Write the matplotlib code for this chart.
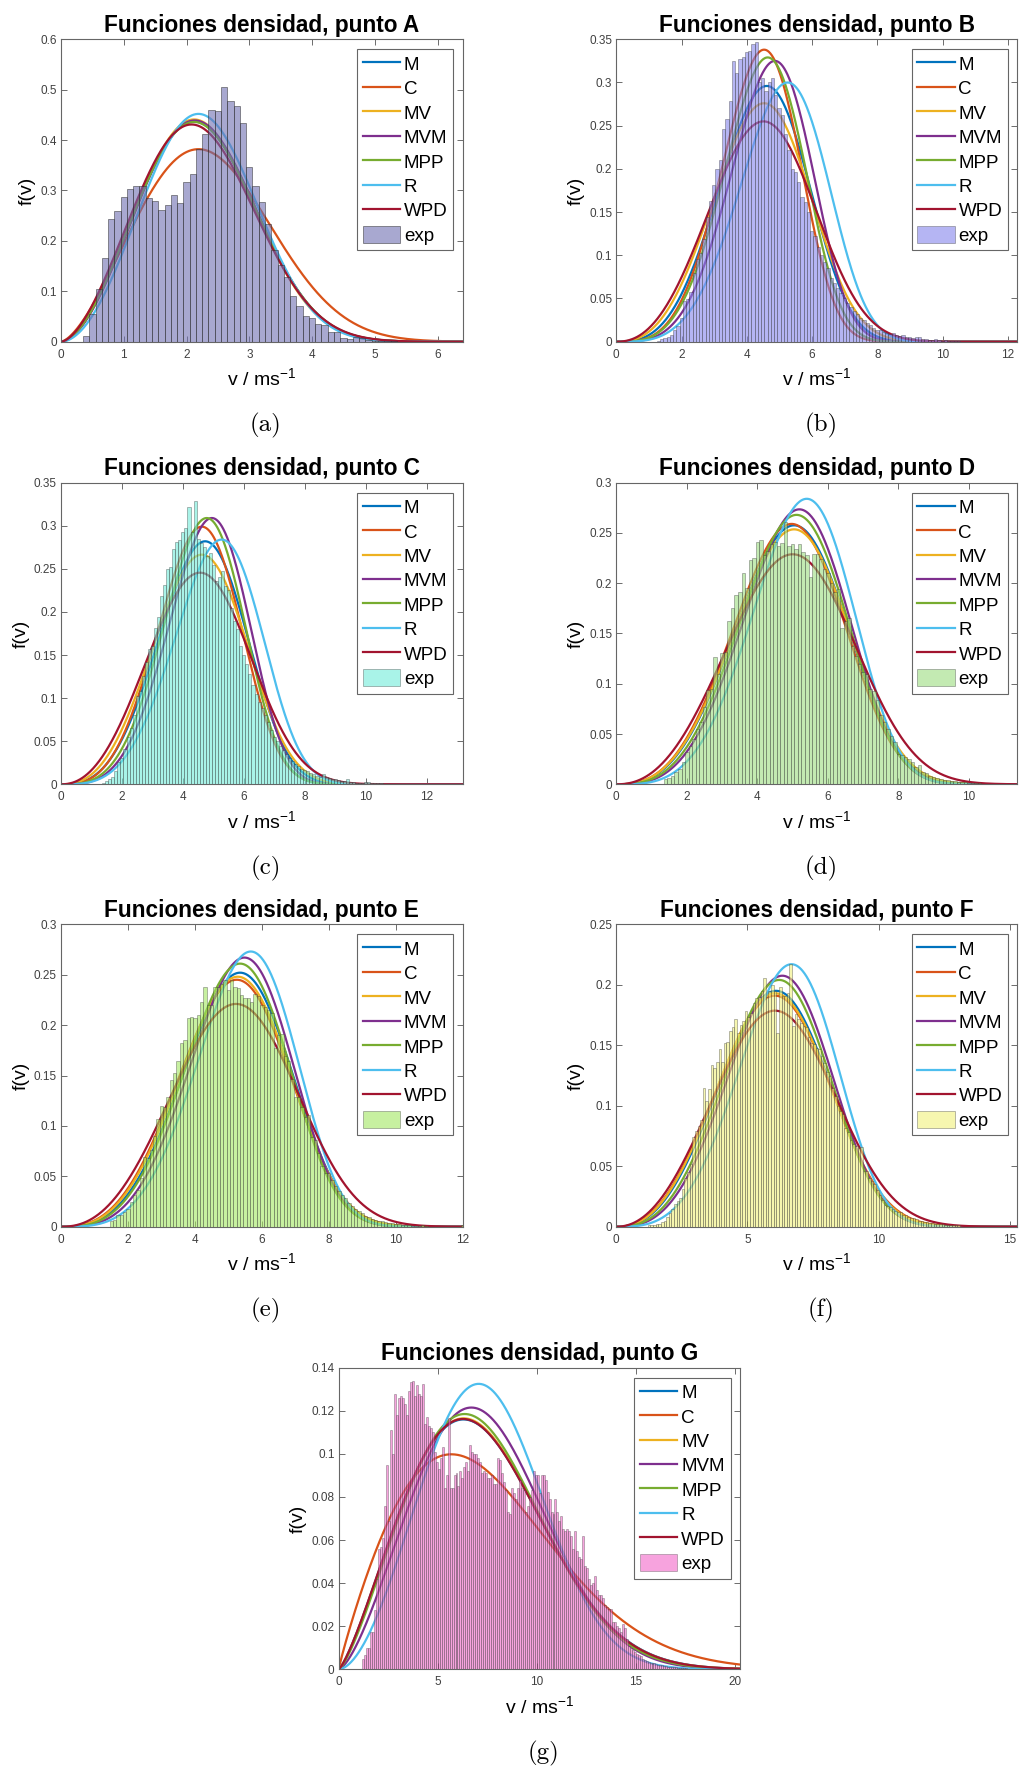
#!/usr/bin/env python3
"""Weibull density fits against the measured wind speed histograms, points A-G."""

import numpy as np
import matplotlib

matplotlib.use("Agg")
import matplotlib.pyplot as plt
from matplotlib.ticker import FuncFormatter, MultipleLocator

METHODS = ["M", "C", "MV", "MVM", "MPP", "R", "WPD"]
METHOD_COLORS = ["#0072bd", "#d95319", "#edb120", "#7e2f8e", "#77ac30", "#4dbeee", "#a2142f"]

BIN_WIDTH = 0.1

# each fit is given by the speed of its maximum and the density there (order of METHODS)

# point A
hist_a_start = 0.35
hist_a = [0.011, 0.055, 0.104, 0.167, 0.243, 0.260, 0.287, 0.303, 0.308, 0.308,
          0.286, 0.280, 0.261, 0.271, 0.292, 0.275, 0.316, 0.333, 0.382, 0.413,
          0.459, 0.458, 0.505, 0.477, 0.468, 0.433, 0.346, 0.308, 0.277, 0.234,
          0.182, 0.152, 0.129, 0.091, 0.071, 0.051, 0.048, 0.036, 0.033, 0.020,
          0.020, 0.007, 0.005, 0.009, 0.007, 0.003, 0.002, 0.002, 0.001, 0.001]
mode_a = [2.12, 2.19, 2.12, 2.13, 2.12, 2.19, 2.08]
peak_a = [0.437, 0.382, 0.441, 0.439, 0.436, 0.452, 0.431]

# point B
hist_b_start = 1.24
hist_b = [0.001, 0.003, 0.004, 0.006, 0.008, 0.013, 0.018, 0.027,
          0.047, 0.049, 0.057, 0.080, 0.096, 0.103, 0.119, 0.144, 0.163, 0.181,
          0.200, 0.210, 0.246, 0.258, 0.279,
          0.325, 0.311, 0.327, 0.329, 0.335, 0.337, 0.344, 0.347,
          0.300, 0.305, 0.290, 0.300, 0.305, 0.285, 0.270, 0.262, 0.240, 0.222,
          0.200, 0.196, 0.185, 0.168, 0.162, 0.150, 0.128, 0.122, 0.110, 0.100,
          0.092, 0.085, 0.074, 0.068, 0.062, 0.056, 0.050, 0.045, 0.040, 0.036,
          0.032, 0.028, 0.025, 0.022, 0.019, 0.016, 0.014, 0.013, 0.011, 0.010,
          0.009, 0.010, 0.008, 0.007, 0.008, 0.006, 0.005, 0.004, 0.006, 0.005,
          0.003, 0.003, 0.002, 0.002, 0.003, 0.002, 0.001, 0.002, 0.001, 0.001,
          0.001, 0.001]
mode_b = [4.61, 4.53, 4.53, 4.86, 4.64, 5.25, 4.51]
peak_b = [0.296, 0.338, 0.276, 0.325, 0.329, 0.300, 0.255]

# point C
hist_c_start = 1.35
hist_c = [0.002, 0.004, 0.006, 0.008, 0.015, 0.026, 0.030, 0.041, 0.055, 0.065,
          0.080, 0.103, 0.108, 0.126, 0.142, 0.157, 0.160, 0.181, 0.194, 0.219,
          0.231, 0.250, 0.252, 0.273, 0.281, 0.283, 0.293, 0.297, 0.322, 0.293,
          0.329, 0.285, 0.280, 0.275, 0.265, 0.268, 0.255, 0.236, 0.240, 0.248,
          0.230, 0.225, 0.205, 0.190, 0.180, 0.161, 0.150, 0.140, 0.128, 0.115,
          0.105, 0.095, 0.088, 0.080, 0.072, 0.063, 0.055, 0.050, 0.045, 0.040,
          0.035, 0.030, 0.027, 0.024, 0.021, 0.018, 0.017, 0.015, 0.013, 0.012,
          0.010, 0.009, 0.012, 0.008, 0.007, 0.006, 0.006, 0.005, 0.004, 0.004,
          0.006, 0.003, 0.003, 0.002, 0.002, 0.002, 0.003, 0.003, 0.001, 0.001,
          0.001, 0.001]
mode_c = [4.73, 4.62, 4.62, 4.95, 4.78, 5.27, 4.56]
peak_c = [0.282, 0.299, 0.2665, 0.309, 0.309, 0.284, 0.2456]

# point D
hist_d_start = 1.35
hist_d = [0.005, 0.006, 0.008, 0.012, 0.015, 0.022, 0.032, 0.038, 0.045, 0.055,
          0.062, 0.077, 0.094, 0.095, 0.127, 0.110, 0.131, 0.132, 0.162, 0.175,
          0.188, 0.191, 0.210, 0.195, 0.223, 0.225, 0.241, 0.243, 0.228, 0.232,
          0.239, 0.241, 0.237, 0.240, 0.261, 0.237, 0.239, 0.234, 0.239, 0.231,
          0.228, 0.206, 0.229, 0.229, 0.224, 0.214, 0.210, 0.200, 0.191, 0.194,
          0.155, 0.162, 0.165, 0.138, 0.128, 0.120, 0.112, 0.110, 0.095, 0.093,
          0.084, 0.069, 0.062, 0.055, 0.048, 0.042, 0.030, 0.029, 0.027, 0.025,
          0.022, 0.017, 0.019, 0.012, 0.011, 0.008, 0.007, 0.006, 0.005, 0.004,
          0.004, 0.003, 0.003, 0.002, 0.002, 0.002, 0.001, 0.001, 0.001, 0.001]
mode_d = [5.04, 4.97, 5.04, 5.19, 5.11, 5.40, 5.00]
peak_d = [0.2576, 0.259, 0.2536, 0.2735, 0.268, 0.284, 0.2288]

# point E
hist_e_start = 1.45
hist_e = [0.006, 0.007, 0.012, 0.012, 0.015, 0.018, 0.025, 0.031, 0.036, 0.048,
          0.069, 0.068, 0.076, 0.090, 0.107, 0.120, 0.119, 0.129, 0.146, 0.152,
          0.164, 0.182, 0.185, 0.207, 0.208, 0.207, 0.210, 0.223, 0.238, 0.220,
          0.220, 0.238, 0.238, 0.241, 0.245, 0.235, 0.245, 0.238, 0.237, 0.230,
          0.227, 0.227, 0.223, 0.231, 0.229, 0.220, 0.218, 0.215, 0.212, 0.177,
          0.190, 0.191, 0.169, 0.164, 0.147, 0.129, 0.129, 0.119, 0.109, 0.111,
          0.089, 0.086, 0.073, 0.060, 0.053, 0.053, 0.046, 0.040, 0.035, 0.031,
          0.028, 0.024, 0.021, 0.018, 0.016, 0.014, 0.011, 0.010, 0.008, 0.007,
          0.006, 0.006, 0.005, 0.004, 0.004, 0.003, 0.003, 0.002, 0.002, 0.002,
          0.001, 0.001, 0.001, 0.002, 0.001, 0.0, 0.0, 0.0, 0.0, 0.0,
          0.0, 0.0, 0.0, 0.0, 0.0, 0.002]
mode_e = [5.35, 5.25, 5.28, 5.48, 5.35, 5.67, 5.23]
peak_e = [0.252, 0.245, 0.248, 0.267, 0.261, 0.273, 0.221]

# point F
hist_f_start = 1.2
hist_f = [0.001, 0.001, 0.001, 0.002, 0.002, 0.004, 0.005, 0.008, 0.011, 0.015,
          0.019, 0.021, 0.024, 0.031, 0.040, 0.045, 0.052, 0.074, 0.079, 0.083,
          0.088, 0.115, 0.104, 0.114, 0.134, 0.131, 0.136, 0.147, 0.136, 0.152,
          0.153, 0.162, 0.165, 0.172, 0.160, 0.167, 0.170, 0.178, 0.173, 0.177,
          0.185, 0.189, 0.190, 0.195, 0.206, 0.190, 0.195, 0.200, 0.195, 0.160,
          0.198, 0.191, 0.191, 0.193, 0.217, 0.166, 0.176, 0.172, 0.168, 0.166,
          0.165, 0.157, 0.152, 0.151, 0.148, 0.147, 0.141, 0.135, 0.128, 0.125,
          0.115, 0.108, 0.100, 0.096, 0.093, 0.082, 0.078, 0.072, 0.068, 0.067,
          0.065, 0.066, 0.046, 0.046, 0.040, 0.038, 0.035, 0.030, 0.026, 0.022,
          0.018, 0.017, 0.016, 0.015, 0.013, 0.012, 0.012, 0.010, 0.010, 0.008,
          0.007, 0.007, 0.006, 0.005, 0.005, 0.004, 0.004, 0.003, 0.003, 0.002,
          0.002, 0.002, 0.002, 0.001, 0.001, 0.001, 0.001, 0.001, 0.001]
mode_f = [6.09, 6.05, 6.05, 6.33, 6.21, 6.68, 6.05]
peak_f = [0.195, 0.191, 0.193, 0.2075, 0.204, 0.217, 0.1786]

# point G
hist_g_start = 1.2
hist_g = [0.005, 0.0067, 0.0097, 0.010, 0.0175, 0.0175, 0.0275, 0.042, 0.056, 0.057,
          0.061, 0.076, 0.095, 0.069, 0.111, 0.100, 0.128, 0.118, 0.126, 0.127,
          0.126, 0.123, 0.118, 0.129, 0.1335, 0.134, 0.127, 0.132, 0.128, 0.127,
          0.1325, 0.114, 0.117, 0.113, 0.112, 0.110, 0.101, 0.096, 0.093, 0.098,
          0.103, 0.084, 0.090, 0.1165, 0.084, 0.084, 0.090, 0.091, 0.085, 0.092,
          0.089, 0.094, 0.096, 0.092, 0.104, 0.101, 0.100, 0.100, 0.098, 0.096,
          0.091, 0.092, 0.091, 0.089, 0.089, 0.090, 0.086, 0.086, 0.098, 0.097,
          0.091, 0.087, 0.083, 0.073, 0.072, 0.084, 0.082, 0.079, 0.084, 0.088,
          0.084, 0.083, 0.073, 0.076, 0.080, 0.083, 0.092, 0.090, 0.090, 0.082,
          0.090, 0.090, 0.088, 0.0825, 0.079, 0.073, 0.072, 0.079, 0.073, 0.069,
          0.071, 0.065, 0.064, 0.065, 0.064, 0.062, 0.056, 0.064, 0.055, 0.052,
          0.051, 0.0617, 0.048, 0.047, 0.042, 0.039, 0.040, 0.0435, 0.037, 0.0345,
          0.0345, 0.033, 0.030, 0.029, 0.028, 0.028, 0.022, 0.022, 0.020, 0.019,
          0.0175, 0.021, 0.019, 0.014, 0.011, 0.0097, 0.009, 0.008, 0.007, 0.0065,
          0.006, 0.005, 0.0045, 0.004, 0.0035, 0.003, 0.003, 0.003, 0.0025, 0.002,
          0.002, 0.002, 0.0015, 0.0015, 0.0012, 0.001, 0.001, 0.001, 0.001, 0.0008,
          0.0008, 0.0006, 0.0006, 0.0005]
mode_g = [6.30, 5.69, 6.31, 6.70, 6.36, 7.07, 6.28]
peak_g = [0.1160, 0.0998, 0.1165, 0.1215, 0.1185, 0.1325, 0.1162]

W, H = 1019, 1769

plt.rcParams["font.family"] = ["Liberation Sans", "DejaVu Sans"]
plt.rcParams["mathtext.fontset"] = "custom"
plt.rcParams["mathtext.rm"] = "Liberation Sans"
plt.rcParams["mathtext.default"] = "regular"


def weibull_from_peak(v_mode, f_peak):
    """Shape k and scale c of the Weibull pdf whose maximum is f_peak at v_mode."""
    target = v_mode * f_peak
    lo, hi = 1.0001, 40.0
    for _ in range(80):
        k = 0.5 * (lo + hi)
        if (k - 1.0) * np.exp(-(k - 1.0) / k) < target:
            lo = k
        else:
            hi = k
    c = v_mode / ((k - 1.0) / k) ** (1.0 / k)
    return k, c


def weibull_pdf(v, k, c):
    return (k / c) * (v / c) ** (k - 1.0) * np.exp(-((v / c) ** k))


def px_rect(left, top, right, bottom):
    return [left / W, 1 - bottom / H, (right - left) / W, (bottom - top) / H]


def draw_panel(fig, p):
    ax = fig.add_axes(px_rect(*p["box"]))
    v = np.linspace(0, p["xmax"], 800)
    for name, color, vm, fp in zip(METHODS, METHOD_COLORS, p["modes"], p["peaks"]):
        k, c = weibull_from_peak(vm, fp)
        ax.plot(v, weibull_pdf(v, k, c), color=color, linewidth=1.6, label=name, zorder=2)

    edges = p["start"] + BIN_WIDTH * np.arange(len(p["hist"]))
    face = matplotlib.colors.to_rgba(p["face"], 0.6)
    ax.bar(edges, p["hist"], width=BIN_WIDTH, align="edge", facecolor=face,
           edgecolor=(0.15, 0.15, 0.15, p["edge_alpha"]), linewidth=0.45,
           label="exp", zorder=3)

    ax.set_xlim(0, p["xmax"])
    ax.set_ylim(0, p["ymax"])
    ax.xaxis.set_major_locator(MultipleLocator(p["xstep"]))
    ax.yaxis.set_major_locator(MultipleLocator(p["ystep"]))
    fmt = FuncFormatter(lambda x, _: f"{x:g}")
    ax.xaxis.set_major_formatter(fmt)
    ax.yaxis.set_major_formatter(fmt)
    ax.tick_params(direction="in", top=True, right=True, length=4, width=0.6,
                   color="#555555", labelcolor="#404040", labelsize=8.5)
    ax.tick_params(axis="x", pad=5)
    ax.tick_params(axis="y", pad=3)
    for s in ax.spines.values():
        s.set_color("#666666")
        s.set_linewidth(0.8)

    ax.set_title(f"Funciones densidad, punto {p['tag']}", fontsize=16.3,
                 fontweight="bold", pad=5.5)
    ax.set_xlabel("v / ms$^{-1}$", fontsize=14, labelpad=5)
    ax.set_ylabel("f(v)", fontsize=14, labelpad=3)

    leg = ax.legend(loc="upper right", bbox_to_anchor=(1 - 9.5 / 402, 1 - 10 / 302),
                    borderaxespad=0, fontsize=13.5, handlelength=2.0, handletextpad=0.2,
                    labelspacing=0.3, borderpad=0.3, handleheight=1.0,
                    fancybox=False, framealpha=1)
    leg.get_frame().set_edgecolor("#666666")
    leg.get_frame().set_linewidth(0.8)

    left, top, right, bottom = p["box"]
    fig.text(((left + right) / 2 + 4) / W, 1 - (bottom + 84) / H, p["caption"],
             family="cmr10", fontsize=18, ha="center", va="center")


def main():
    fig = plt.figure(figsize=(W / 100, H / 100), dpi=100)

    panels = [
        dict(tag="A", caption="(a)", hist=hist_a, start=hist_a_start, modes=mode_a, peaks=peak_a,
             face="#6e6eb1", edge_alpha=0.75, xmax=6.4, ymax=0.6, xstep=1, ystep=0.1,
             box=(61, 39.3, 462.7, 341.7)),
        dict(tag="B", caption="(b)", hist=hist_b, start=hist_b_start, modes=mode_b, peaks=peak_b,
             face="#8585eb", edge_alpha=0.5, xmax=12.29, ymax=0.35, xstep=2, ystep=0.05,
             box=(616.3, 39.3, 1017.3, 341.7)),
        dict(tag="C", caption="(c)", hist=hist_c, start=hist_c_start, modes=mode_c, peaks=peak_c,
             face="#70ebd9", edge_alpha=0.5, xmax=13.18, ymax=0.35, xstep=2, ystep=0.05,
             box=(61, 482.7, 462.7, 784.3)),
        dict(tag="D", caption="(d)", hist=hist_d, start=hist_d_start, modes=mode_d, peaks=peak_d,
             face="#9bdc80", edge_alpha=0.5, xmax=11.37, ymax=0.3, xstep=2, ystep=0.05,
             box=(616.3, 482.7, 1017.3, 784.3)),
        dict(tag="E", caption="(e)", hist=hist_e, start=hist_e_start, modes=mode_e, peaks=peak_e,
             face="#a3e661", edge_alpha=0.5, xmax=12.0, ymax=0.3, xstep=2, ystep=0.05,
             box=(61, 924.3, 462.7, 1226.7)),
        dict(tag="F", caption="(f)", hist=hist_f, start=hist_f_start, modes=mode_f, peaks=peak_f,
             face="#f0f07b", edge_alpha=0.5, xmax=15.29, ymax=0.25, xstep=5, ystep=0.05,
             box=(616.3, 924.3, 1017.3, 1226.7)),
        dict(tag="G", caption="(g)", hist=hist_g, start=hist_g_start, modes=mode_g, peaks=peak_g,
             face="#f266c8", edge_alpha=0.45, xmax=20.27, ymax=0.14, xstep=5, ystep=0.02,
             box=(338.7, 1367.7, 740, 1669.3)),
    ]
    for p in panels:
        draw_panel(fig, p)

    fig.savefig("out.png", dpi=100)


if __name__ == "__main__":
    main()
